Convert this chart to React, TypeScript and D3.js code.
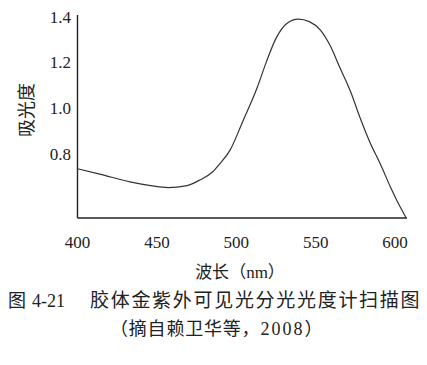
import React from "react";
import * as d3 from "d3";

const wavelengths = [400, 414, 433, 446, 457, 469, 477, 485, 490, 496, 504, 513, 519, 525, 532, 539, 546, 553, 559, 565, 572, 578, 584, 591, 597, 602, 607];
const absorbance = [0.740, 0.717, 0.683, 0.667, 0.658, 0.667, 0.691, 0.726, 0.765, 0.820, 0.945, 1.090, 1.206, 1.307, 1.373, 1.391, 1.380, 1.343, 1.277, 1.184, 1.075, 0.961, 0.858, 0.756, 0.662, 0.590, 0.526];
const xTicks = [400, 450, 500, 550, 600];
const yTicks = [0.8, 1.0, 1.2, 1.4];
const yLabel = "吸光度";
const xLabelCjk = "波长";
const xLabelUnit = "nm";
const caption1Fig = "图";
const caption1Num = "4-21";
const caption1b = "胶体金紫外可见光分光光度计扫描图";
const caption2a = "（摘自赖卫华等，";
const caption2Year = "2008";
const caption2End = "）";

const W = 427;
const H = 365;
const serif = "'Liberation Serif', 'DejaVu Serif', serif";
const cjk = "'Noto Sans CJK SC', 'Liberation Serif', serif";

export default function App() {
  const x = d3.scaleLinear().domain([400, 607.5]).range([77.5, 407]);
  const y = d3.scaleLinear().domain([0.526, 1.4]).range([218, 17]);
  const pts: [number, number][] = wavelengths.map((w, i) => [w, absorbance[i]]);
  const line = d3
    .line<[number, number]>()
    .x((d) => x(d[0]))
    .y((d) => y(d[1]))
    .curve(d3.curveMonotoneX);
  const [x0, x1] = x.range();
  const [yb] = y.range();
  return (
    <svg width={W} height={H} style={{ position: "absolute", left: 0, top: 0, background: "#fff" }}>
      <rect x={0} y={0} width={W} height={H} fill="#fff" />
      <line x1={x0} x2={x0} y1={15} y2={yb} stroke="#222" strokeWidth={1.4} />
      <line x1={x0} x2={x1} y1={yb} y2={yb} stroke="#222" strokeWidth={1.4} />
      <path d={line(pts) || ""} fill="none" stroke="#333" strokeWidth={1.2} />
      {yTicks.map((t) => (
        <text key={t} x={71} y={y(t)} textAnchor="end" dominantBaseline="central" fontFamily={serif} fontSize={17} fill="#222">
          {t.toFixed(1)}
        </text>
      ))}
      {xTicks.map((t) => (
        <text key={t} x={x(t)} y={248} textAnchor="middle" fontFamily={serif} fontSize={17} fill="#222">
          {t}
        </text>
      ))}
      <text transform="translate(33,110) rotate(-90)" textAnchor="middle" fontFamily={cjk} fontSize={18} fill="#222">
        {yLabel}
      </text>
      <text x={240} y={278} textAnchor="middle" fontFamily={cjk} fontSize={17} fill="#222">
        {xLabelCjk}（<tspan fontFamily={serif}>{xLabelUnit}</tspan>）
      </text>
      <text x={8} y={307} fontFamily={cjk} fontSize={18} fill="#222">
        {caption1Fig}
      </text>
      <text x={32} y={307} fontFamily={serif} fontSize={18} fill="#222">
        {caption1Num}
      </text>
      <text x={90} y={307} fontFamily={cjk} fontSize={19} letterSpacing={1.7} fill="#222">
        {caption1b}
      </text>
      <text x={110} y={335} fontFamily={cjk} fontSize={18} letterSpacing={0.8} fill="#222">
        {caption2a}
        <tspan fontFamily={serif} letterSpacing={2}>{caption2Year}</tspan>
        {caption2End}
      </text>
    </svg>
  );
}
